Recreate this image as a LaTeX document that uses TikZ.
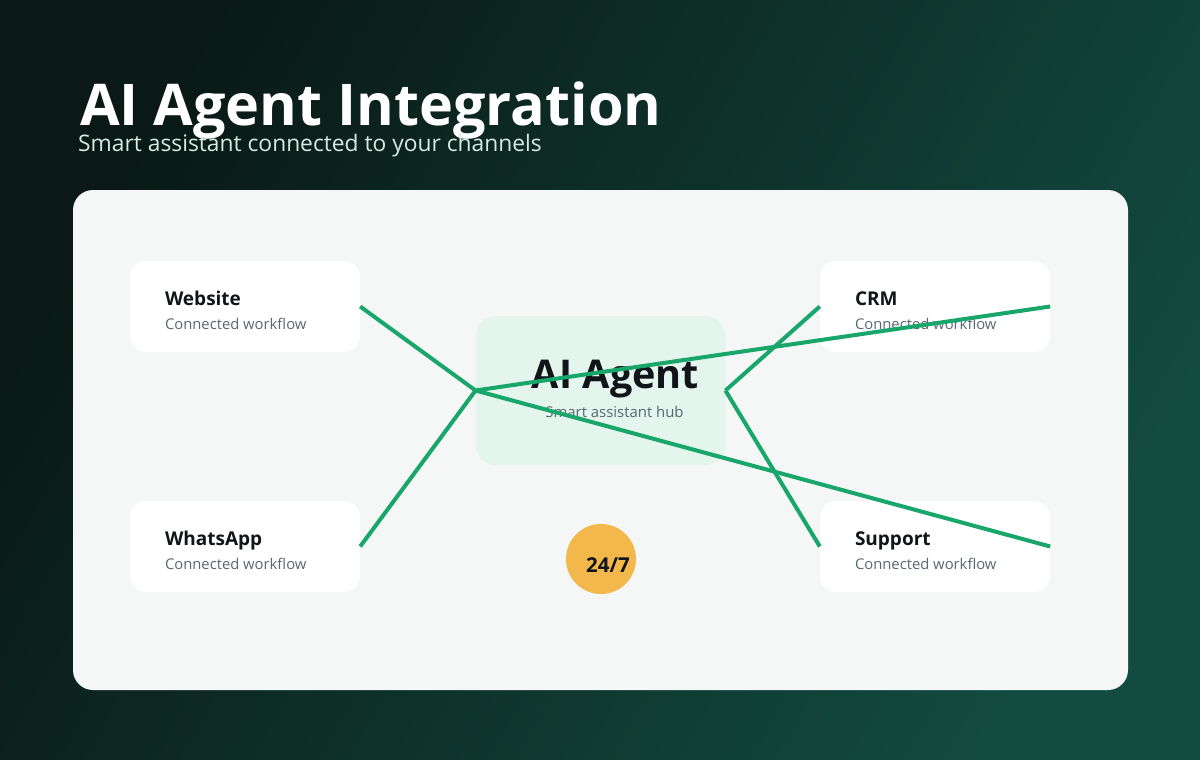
\documentclass[tikz,border=0pt]{standalone}
\usepackage{fontspec}
\setmainfont{Open Sans}
\usetikzlibrary{positioning}

\definecolor{bgdark}{HTML}{0A1915}
\definecolor{bglight}{HTML}{124B3F}
\definecolor{panel}{HTML}{F5F7F6}
\definecolor{hubfill}{HTML}{E3F5EC}
\definecolor{linkgreen}{HTML}{18A66A}
\definecolor{ink}{HTML}{111418}
\definecolor{muted}{HTML}{5B6670}
\definecolor{badgefill}{HTML}{F2B84C}
\definecolor{subtext}{HTML}{D4ECE2}

\tikzset{
  card/.style={fill=white, rounded corners=16pt, minimum width=230pt, minimum height=91pt, inner sep=0pt},
  cardname/.style={font=\bfseries\fontsize{19}{22}\selectfont, text=ink, anchor=base west, inner sep=0pt},
  cardnote/.style={font=\fontsize{14.8}{17}\selectfont, text=muted, anchor=base west, inner sep=0pt},
  hubbox/.style={fill=hubfill, rounded corners=20pt, minimum width=249.5pt, minimum height=149pt, inner sep=0pt},
  badge/.style={circle, fill=badgefill, minimum size=70pt, inner sep=0pt},
  link/.style={draw=linkgreen, line width=4pt}
}

\begin{document}
\begin{tikzpicture}[x=1pt, y=-1pt]
    % background and panel
    \shade[top color=bgdark, bottom color=bglight, shading angle=60] (0,0) rectangle (1200,760);
    \fill[panel, rounded corners=20pt] (73,190) rectangle (1128,690);

    % heading
    \node[anchor=base west, inner sep=0pt, text=white, font=\bfseries\fontsize{57.5}{62}\selectfont] (title) at (80,125) {AI Agent Integration};
    \node[anchor=base west, inner sep=0pt, text=subtext, font=\fontsize{22.8}{26}\selectfont] (subtitle) at (78,151) {Smart assistant connected to your channels};

    % channel cards
    \node[card] (web) at (245,306.5) {};
    \node[cardname] (webname) at ([shift={(35,-1.5)}]web.west) {Website};
    \node[cardnote] (webnote) at ([shift={(35,22.5)}]web.west) {Connected workflow};

    \node[card] (chat) at (245,546.5) {};
    \node[cardname] (chatname) at ([shift={(35,-1.5)}]chat.west) {WhatsApp};
    \node[cardnote] (chatnote) at ([shift={(35,22.5)}]chat.west) {Connected workflow};

    \node[card] (crm) at (935,306.5) {};
    \node[cardname] (crmname) at ([shift={(35,-1.5)}]crm.west) {CRM};
    \node[cardnote] (crmnote) at ([shift={(35,22.5)}]crm.west) {Connected workflow};

    \node[card] (help) at (935,546.5) {};
    \node[cardname] (helpname) at ([shift={(35,-1.5)}]help.west) {Support};
    \node[cardnote] (helpnote) at ([shift={(35,22.5)}]help.west) {Connected workflow};

    % hub
    \node[hubbox] (hub) at (600.5,390.5) {};
    \node[anchor=base, inner sep=0pt, text=ink, font=\bfseries\fontsize{39.6}{44}\selectfont] (hubname) at ([shift={(15,-2.5)}]hub.center) {AI Agent};
    \node[anchor=base, inner sep=0pt, text=muted, font=\fontsize{14.9}{17}\selectfont] (hubnote) at ([shift={(14,26.5)}]hub.center) {Smart assistant hub};

    % 24/7 badge
    \node[badge] (clock) at (601,559) {};
    \node[anchor=base, inner sep=0pt, text=ink, font=\bfseries\fontsize{20.5}{23}\selectfont] (clocktext) at ([shift={(7,13)}]clock.center) {24/7};

    % connectors
    \draw[link] (web.east) -- (hub.west);
    \draw[link] (chat.east) -- (hub.west);
    \draw[link] (hub.west) -- (crm.east);
    \draw[link] (hub.west) -- (help.east);
    \draw[link] (hub.east) -- (crm.west);
    \draw[link] (hub.east) -- (help.west);
\end{tikzpicture}
\end{document}
